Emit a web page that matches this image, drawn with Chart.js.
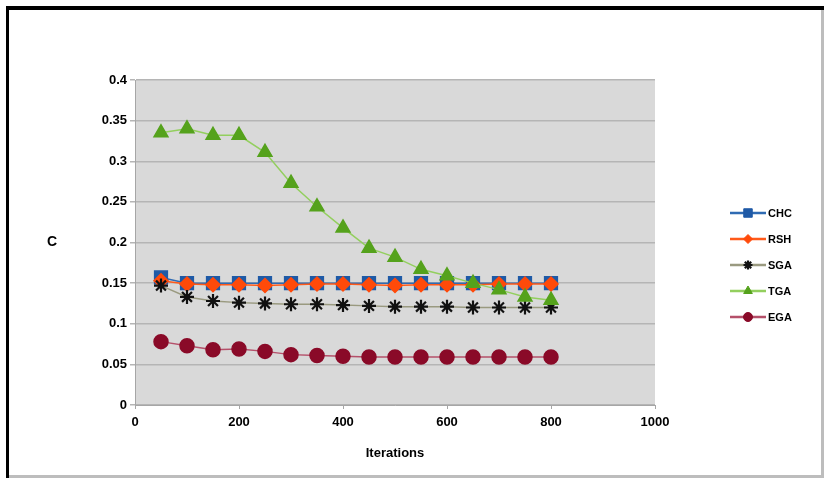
<!DOCTYPE html>
<html>
<head>
<meta charset="utf-8">
<script src="https://cdn.jsdelivr.net/npm/chart.js@4"></script>
<style>
  html, body { margin: 0; padding: 0; background: #ffffff; }
  #wrap { width: 824px; height: 478px; position: relative; }
</style>
</head>
<body>
<div id="wrap"><canvas id="c" width="824" height="478"></canvas></div>
<script>
// Iteration counts on the x axis
const iterations = [50, 100, 150, 200, 250, 300, 350, 400, 450, 500, 550, 600, 650, 700, 750, 800];

// Series values
const chc = [0.157, 0.150, 0.150, 0.150, 0.150, 0.150, 0.150, 0.150, 0.150, 0.150, 0.150, 0.150, 0.150, 0.150, 0.150, 0.150];
const rsh = [0.153, 0.149, 0.148, 0.148, 0.147, 0.148, 0.149, 0.149, 0.148, 0.147, 0.148, 0.148, 0.148, 0.149, 0.149, 0.149];
const sga = [0.147, 0.133, 0.128, 0.126, 0.125, 0.124, 0.124, 0.123, 0.122, 0.121, 0.121, 0.121, 0.120, 0.120, 0.120, 0.120];
const tga = [0.335, 0.340, 0.332, 0.332, 0.311, 0.273, 0.244, 0.218, 0.193, 0.182, 0.167, 0.159, 0.150, 0.142, 0.133, 0.129];
const ega = [0.078, 0.073, 0.068, 0.069, 0.066, 0.062, 0.061, 0.060, 0.059, 0.059, 0.059, 0.059, 0.059, 0.059, 0.059, 0.059];

// Axis tick values
const xTicks = [0, 200, 400, 600, 800, 1000];
const yTicks = [0, 0.05, 0.1, 0.15, 0.2, 0.25, 0.3, 0.35, 0.4];

const seriesNames = ['CHC', 'RSH', 'SGA', 'TGA', 'EGA'];

const FONT = '"Liberation Sans", Arial, sans-serif';

function pts(vals) {
  return vals.map((v, i) => ({ x: iterations[i], y: v }));
}

const datasets = [
  { label: seriesNames[0], data: pts(chc), borderColor: '#2f6bb3', backgroundColor: '#1f5aa6',
    pointBorderColor: '#1f5aa6', pointStyle: 'rect', pointRadius: 9, legendRadius: 6, borderWidth: 1.5, order: 4 },
  { label: seriesNames[1], data: pts(rsh), borderColor: '#ff5a1a', backgroundColor: '#ff4a0a',
    pointBorderColor: '#ff4a0a', pointStyle: 'rectRot', pointRadius: 7, legendRadius: 4.5, borderWidth: 1.5, order: 3 },
  { label: seriesNames[2], data: pts(sga), borderColor: '#9a9a80', backgroundColor: '#111111',
    pointBorderColor: '#111111', pointStyle: 'star', pointRadius: 7, legendRadius: 4.5, pointBorderWidth: 2.2, borderWidth: 1.5, order: 2 },
  { label: seriesNames[3], data: pts(tga), borderColor: '#93cf5e', backgroundColor: '#55a21c',
    pointBorderColor: '#55a21c', pointStyle: 'triangle', pointRadius: 8, legendRadius: 5, borderWidth: 1.5, order: 1 },
  { label: seriesNames[4], data: pts(ega), borderColor: '#b5506a', backgroundColor: '#8a0a28',
    pointBorderColor: '#8a0a28', pointStyle: 'circle', pointRadius: 7, legendRadius: 4.5, borderWidth: 1.5, order: 5 }
];

// Frame, plot background, horizontal y title and the line+marker legend
const decor = {
  id: 'decor',
  beforeDraw(chart) {
    const ctx = chart.ctx;
    const a = chart.chartArea;
    ctx.save();
    ctx.fillStyle = '#ffffff';
    ctx.fillRect(0, 0, chart.width, chart.height);
    ctx.fillStyle = '#d9d9d9';
    ctx.fillRect(a.left, a.top, a.right - a.left, a.bottom - a.top);
    ctx.restore();
  },
  afterDraw(chart) {
    const ctx = chart.ctx;
    ctx.save();
    // outer frame
    ctx.fillStyle = '#000000';
    ctx.fillRect(6, 6, 818, 4);
    ctx.fillRect(6, 6, 3, 472);
    ctx.fillStyle = '#bdbdbd';
    ctx.fillRect(9, 475, 815, 3);
    ctx.fillRect(821, 10, 3, 468);

    // y axis title, horizontal
    ctx.fillStyle = '#000000';
    ctx.font = 'bold 14px ' + FONT;
    ctx.textAlign = 'center';
    ctx.textBaseline = 'middle';
    ctx.fillText('C', 52, 242);

    // legend
    const x0 = 730, x1 = 766, yStart = 213, step = 26;
    chart.data.datasets.forEach((ds, i) => {
      const y = yStart + i * step;
      ctx.strokeStyle = ds.borderColor;
      ctx.lineWidth = 2.5;
      ctx.beginPath();
      ctx.moveTo(x0, y);
      ctx.lineTo(x1, y);
      ctx.stroke();
      ctx.fillStyle = ds.backgroundColor;
      ctx.strokeStyle = ds.pointBorderColor;
      ctx.lineWidth = ds.pointBorderWidth || 1;
      Chart.helpers.drawPoint(ctx, {
        pointStyle: ds.pointStyle, rotation: 0, radius: ds.legendRadius,
        borderWidth: ds.pointBorderWidth || 1
      }, (x0 + x1) / 2, y);
      ctx.fillStyle = '#000000';
      ctx.font = 'bold 11px ' + FONT;
      ctx.textAlign = 'left';
      ctx.textBaseline = 'middle';
      ctx.fillText(ds.label, x1 + 2, y + 1);
    });
    ctx.restore();
  }
};

new Chart(document.getElementById('c'), {
  type: 'line',
  data: { datasets },
  plugins: [decor],
  options: {
    responsive: false,
    animation: false,
    devicePixelRatio: 1,
    layout: { padding: { left: 40, right: 169, top: 80, bottom: 13 } },
    plugins: { legend: { display: false }, tooltip: { enabled: false } },
    scales: {
      x: {
        type: 'linear',
        min: 0, max: 1000,
        afterBuildTicks(scale) { scale.ticks = xTicks.map(v => ({ value: v })); },
        afterFit(scale) { scale.height = 60; },
        grid: { display: true, drawOnChartArea: false, drawTicks: true, tickLength: 4, color: '#a6a6a6' },
        border: { display: true, color: '#a6a6a6', width: 1 },
        ticks: { color: '#000000', font: { family: FONT, size: 13, weight: 'bold' }, padding: 6, maxRotation: 0,
          callback: v => String(v) },
        title: { display: true, text: 'Iterations', color: '#000000', font: { family: FONT, size: 13, weight: 'bold' }, padding: { top: 6 } }
      },
      y: {
        type: 'linear',
        min: 0, max: 0.4,
        afterBuildTicks(scale) { scale.ticks = yTicks.map(v => ({ value: v })); },
        afterFit(scale) { scale.width = 95; },
        grid: { color: '#b5b5b5', lineWidth: 1.5, tickLength: 5, drawTicks: true },
        border: { display: true, color: '#a6a6a6', width: 1 },
        ticks: { color: '#000000', font: { family: FONT, size: 13, weight: 'bold' }, padding: 3,
          callback: v => String(Math.round(v * 100) / 100) }
      }
    }
  }
});
</script>
</body>
</html>
